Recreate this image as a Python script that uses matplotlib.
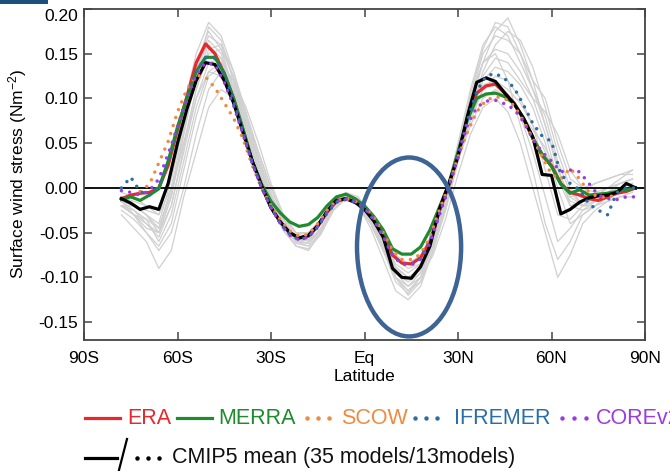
import numpy as np
import matplotlib
matplotlib.use('Agg')
import matplotlib.pyplot as plt
from matplotlib.patches import Ellipse, Rectangle
from matplotlib.lines import Line2D
from matplotlib.transforms import ScaledTranslation

plt.rcParams['font.family'] = ['Liberation Sans', 'DejaVu Sans']
plt.rcParams['axes.unicode_minus'] = False
plt.rcParams['mathtext.fontset'] = 'custom'
plt.rcParams['mathtext.rm'] = 'Liberation Sans'
plt.rcParams['mathtext.it'] = 'Liberation Sans:italic'

nan = np.nan

# zonal mean surface wind stress (N m-2), 3 deg latitude steps
lat = np.arange(-78, 90, 3)
era = [-0.012, -0.008, -0.006, -0.005, 0.000, 0.025, 0.065, 0.102, 0.140, 0.161,
       0.150, 0.128, 0.100, 0.065, 0.030, 0.002, -0.022, -0.038, -0.050, -0.056,
       -0.054, -0.043, -0.027, -0.015, -0.012, -0.016, -0.022, -0.035, -0.052, -0.075,
       -0.084, -0.085, -0.078, -0.060, -0.026, 0.002, 0.038, 0.078, 0.106, 0.114,
       0.116, 0.106, 0.095, 0.078, 0.056, 0.036, 0.025, 0.005, -0.005, -0.008,
       -0.012, -0.014, -0.010, -0.006, -0.004, 0.000]
merra = [-0.013, -0.010, -0.014, -0.008, -0.001, 0.030, 0.068, 0.100, 0.130, 0.146,
         0.146, 0.128, 0.100, 0.066, 0.030, 0.004, -0.015, -0.028, -0.038, -0.043,
         -0.041, -0.033, -0.020, -0.010, -0.007, -0.012, -0.020, -0.032, -0.047, -0.068,
         -0.074, -0.074, -0.066, -0.047, -0.022, 0.004, 0.040, 0.076, 0.100, 0.105,
         0.106, 0.102, 0.094, 0.078, 0.055, 0.038, 0.024, 0.004, -0.006, -0.002,
         -0.008, -0.007, -0.006, -0.004, -0.002, 0.000]
cmip_mean = [-0.012, -0.017, -0.024, -0.021, -0.024, 0.005, 0.050, 0.088, 0.120, 0.140,
             0.138, 0.120, 0.095, 0.062, 0.030, 0.002, -0.022, -0.038, -0.050, -0.056,
             -0.053, -0.042, -0.026, -0.014, -0.012, -0.016, -0.024, -0.037, -0.055, -0.090,
             -0.100, -0.101, -0.088, -0.065, -0.024, 0.004, 0.035, 0.080, 0.118, 0.123,
             0.119, 0.106, 0.094, 0.078, 0.057, 0.015, 0.014, -0.029, -0.024, -0.016,
             -0.011, -0.009, -0.008, -0.005, 0.005, 0.000]
scow = [nan, nan, -0.004, 0.004, 0.028, 0.052, 0.085, 0.110, 0.126, 0.124,
        0.112, 0.095, 0.078, 0.055, 0.025, 0.000, -0.020, -0.036, -0.048, -0.054,
        -0.052, -0.040, -0.025, -0.014, -0.012, -0.015, -0.021, -0.033, -0.050, -0.070,
        -0.080, -0.080, -0.074, -0.055, -0.025, 0.002, 0.035, 0.062, 0.085, 0.098,
        0.102, 0.100, 0.092, 0.075, 0.055, 0.035, 0.015, 0.010, 0.022, 0.010,
        -0.005, -0.010, -0.010, -0.008, nan, nan]
ifremer = [0.000, 0.012, -0.004, -0.008, 0.002, 0.030, 0.068, 0.100, 0.130, 0.146,
           0.145, 0.128, 0.098, 0.063, 0.028, 0.000, -0.022, -0.040, -0.052, -0.058,
           -0.055, -0.044, -0.028, -0.016, -0.013, -0.016, -0.022, -0.036, -0.054, -0.075,
           -0.085, -0.086, -0.078, -0.060, -0.030, 0.000, 0.036, 0.075, 0.108, 0.125,
           0.128, 0.122, 0.112, 0.093, 0.072, 0.058, 0.052, 0.015, 0.005, -0.002,
           -0.018, -0.025, -0.030, -0.005, 0.000, 0.000]
corev2 = [-0.003, -0.005, -0.008, -0.003, 0.010, 0.038, 0.068, 0.100, 0.126, 0.140,
          0.138, 0.118, 0.092, 0.060, 0.027, 0.000, -0.022, -0.040, -0.053, -0.058,
          -0.055, -0.043, -0.027, -0.015, -0.012, -0.015, -0.022, -0.035, -0.054, -0.076,
          -0.085, -0.086, -0.080, -0.062, -0.030, 0.000, 0.034, 0.070, 0.090, 0.097,
          0.098, 0.094, 0.088, 0.074, 0.055, 0.040, 0.030, 0.018, 0.020, 0.018,
          0.005, -0.008, -0.012, -0.013, -0.010, -0.010]

# individual CMIP5 models, 4 deg latitude steps
lat_models = np.arange(-78, 90, 4)
cmip_models = [
    [-0.02, -0.03, -0.04, -0.05, -0.01, 0.06, 0.13, 0.18, 0.165, 0.12,
     0.07, 0.02, -0.02, -0.045, -0.06, -0.058, -0.04, -0.015, -0.008, -0.02,
     -0.04, -0.07, -0.10, -0.115, -0.10, -0.06, -0.01, 0.04, 0.09, 0.14,
     0.175, 0.19, 0.16, 0.12, 0.07, 0.02, -0.01, -0.02, -0.015, -0.01,
     0.0, 0.005],
    [-0.03, -0.045, -0.06, -0.09, -0.07, -0.01, 0.04, 0.09, 0.11, 0.10,
     0.07, 0.03, -0.01, -0.04, -0.06, -0.065, -0.05, -0.025, -0.01, -0.02,
     -0.045, -0.08, -0.115, -0.125, -0.11, -0.07, -0.02, 0.04, 0.10, 0.14,
     0.15, 0.12, 0.07, 0.02, -0.04, -0.08, -0.06, -0.03, -0.02, -0.01,
     -0.005, 0.0],
    [-0.01, -0.02, -0.03, -0.04, 0.01, 0.07, 0.13, 0.165, 0.15, 0.11,
     0.065, 0.02, -0.02, -0.045, -0.058, -0.055, -0.038, -0.015, -0.008, -0.015,
     -0.035, -0.06, -0.09, -0.10, -0.09, -0.055, -0.01, 0.045, 0.10, 0.14,
     0.155, 0.15, 0.13, 0.10, 0.06, 0.01, -0.02, -0.015, -0.01, -0.005,
     0.005, 0.01],
    [-0.02, -0.025, -0.035, -0.06, -0.03, 0.03, 0.09, 0.13, 0.14, 0.12,
     0.08, 0.04, 0.0, -0.035, -0.055, -0.06, -0.045, -0.02, -0.005, -0.01,
     -0.03, -0.06, -0.095, -0.11, -0.095, -0.065, -0.025, 0.03, 0.08, 0.12,
     0.135, 0.13, 0.115, 0.09, 0.05, 0.0, -0.04, -0.03, -0.02, -0.01,
     0.0, 0.0],
    [-0.01, -0.02, -0.025, -0.03, 0.02, 0.09, 0.15, 0.185, 0.17, 0.13,
     0.08, 0.03, -0.015, -0.045, -0.065, -0.07, -0.05, -0.02, -0.005, -0.015,
     -0.04, -0.07, -0.095, -0.105, -0.095, -0.06, -0.01, 0.05, 0.11, 0.16,
     0.18, 0.17, 0.14, 0.11, 0.08, 0.03, -0.005, -0.02, -0.01, 0.0,
     0.01, 0.02],
    [-0.015, -0.03, -0.05, -0.065, -0.04, 0.02, 0.08, 0.125, 0.135, 0.11,
     0.07, 0.03, -0.01, -0.035, -0.05, -0.05, -0.035, -0.015, -0.01, -0.02,
     -0.035, -0.055, -0.08, -0.09, -0.085, -0.06, -0.02, 0.03, 0.075, 0.11,
     0.12, 0.105, 0.08, 0.04, -0.01, -0.06, -0.045, -0.025, -0.02, -0.015,
     -0.01, -0.005],
    [-0.02, -0.02, -0.03, -0.045, -0.005, 0.05, 0.11, 0.15, 0.155, 0.125,
     0.08, 0.035, -0.005, -0.04, -0.062, -0.065, -0.05, -0.025, -0.012, -0.02,
     -0.04, -0.065, -0.10, -0.12, -0.105, -0.07, -0.02, 0.035, 0.085, 0.125,
     0.145, 0.14, 0.12, 0.10, 0.085, 0.06, 0.02, 0.0, -0.005, 0.0,
     0.005, 0.01],
    [-0.005, -0.01, -0.02, -0.03, 0.0, 0.05, 0.10, 0.13, 0.125, 0.10,
     0.06, 0.02, -0.015, -0.04, -0.052, -0.05, -0.038, -0.018, -0.008, -0.012,
     -0.028, -0.05, -0.075, -0.085, -0.075, -0.05, -0.01, 0.04, 0.09, 0.115,
     0.12, 0.11, 0.095, 0.07, 0.04, 0.01, -0.01, -0.005, 0.005, 0.01,
     0.015, 0.015],
    [-0.025, -0.035, -0.05, -0.07, -0.05, 0.0, 0.06, 0.11, 0.13, 0.12,
     0.09, 0.05, 0.005, -0.03, -0.05, -0.058, -0.047, -0.025, -0.012, -0.018,
     -0.035, -0.065, -0.10, -0.11, -0.10, -0.075, -0.035, 0.015, 0.06, 0.09,
     0.10, 0.085, 0.05, 0.0, -0.05, -0.10, -0.075, -0.04, -0.025, -0.015,
     -0.01, -0.01],
    [-0.01, -0.015, -0.02, -0.025, 0.015, 0.075, 0.135, 0.17, 0.16, 0.12,
     0.075, 0.03, -0.01, -0.04, -0.055, -0.055, -0.04, -0.018, -0.008, -0.015,
     -0.03, -0.055, -0.085, -0.095, -0.085, -0.055, -0.015, 0.04, 0.10, 0.15,
     0.17, 0.165, 0.15, 0.12, 0.10, 0.05, 0.01, 0.0, 0.005, 0.01,
     0.015, 0.02],
    [-0.015, -0.025, -0.04, -0.055, -0.02, 0.04, 0.10, 0.14, 0.145, 0.115,
     0.072, 0.03, -0.008, -0.038, -0.058, -0.062, -0.048, -0.022, -0.01, -0.016,
     -0.038, -0.07, -0.105, -0.118, -0.10, -0.065, -0.02, 0.035, 0.08, 0.11,
     0.125, 0.12, 0.10, 0.07, 0.02, -0.03, -0.035, -0.02, -0.01, -0.005,
     0.0, 0.005],
    [-0.02, -0.03, -0.045, -0.05, -0.01, 0.06, 0.125, 0.16, 0.145, 0.105,
     0.06, 0.02, -0.02, -0.048, -0.065, -0.068, -0.052, -0.025, -0.01, -0.018,
     -0.04, -0.068, -0.10, -0.115, -0.105, -0.07, -0.025, 0.03, 0.085, 0.13,
     0.16, 0.175, 0.165, 0.135, 0.09, 0.04, 0.0, -0.02, -0.02, -0.01,
     -0.005, 0.0],
    [-0.015, -0.02, -0.03, -0.05, -0.02, 0.045, 0.11, 0.155, 0.16, 0.13,
     0.085, 0.04, 0.0, -0.032, -0.05, -0.052, -0.04, -0.02, -0.012, -0.02,
     -0.035, -0.06, -0.09, -0.1, -0.092, -0.062, -0.022, 0.03, 0.07, 0.1,
     0.11, 0.1, 0.085, 0.065, 0.045, 0.015, -0.015, -0.02, -0.01, 0.0,
     0.005, 0.01],
    [-0.02, -0.03, -0.035, -0.045, 0.0, 0.065, 0.14, 0.175, 0.155, 0.11,
     0.065, 0.025, -0.015, -0.042, -0.06, -0.062, -0.045, -0.02, -0.008, -0.014,
     -0.03, -0.058, -0.088, -0.1, -0.09, -0.058, -0.015, 0.045, 0.105, 0.155,
     0.185, 0.18, 0.15, 0.11, 0.07, 0.025, -0.02, -0.025, -0.015, -0.005,
     0.005, 0.01],
]

xticks = [-90, -60, -30, 0, 30, 60, 90]
xticklabels = ['90S', '60S', '30S', 'Eq', '30N', '60N', '90N']
yticks = [-0.15, -0.10, -0.05, 0.00, 0.05, 0.10, 0.15, 0.20]
yticklabels = ['-0.15', '-0.10', '-0.05', '0.00', '0.05', '0.10', '0.15', '0.20']

c_era = '#e8282c'
c_merra = '#1f8a2e'
c_scow = '#ef8a3e'
c_ifremer = '#2b6ea6'
c_core = '#9a3ce0'

W, H = 670, 471
fig = plt.figure(figsize=(W / 100, H / 100), dpi=100)
ax = fig.add_axes([84 / W, 1 - 340 / H, 561 / W, 331 / H])

for m in cmip_models:
    ax.plot(lat_models, m, color='#d0d0d0', lw=0.9, zorder=1)

ax.axhline(0, color='#111111', lw=1.4, zorder=2)

ax.plot(lat, era, color=c_era, lw=2.3, zorder=3)
ax.plot(lat, merra, color=c_merra, lw=2.3, zorder=4)
ax.plot(lat, cmip_mean, color='black', lw=2.3, zorder=5)

dots = dict(lw=2.5, linestyle=(0, (0.01, 2.4)), dash_capstyle='round', zorder=6)
ax.plot(lat, scow, color=c_scow, **dots)
ax.plot(lat, ifremer, color=c_ifremer, **dots)
ax.plot(lat, corev2, color=c_core, **dots)

ax.add_patch(Ellipse((14.3, -0.066), 33.4, 0.2, fill=False,
                     edgecolor='#3d6494', lw=3.2, zorder=7))

ax.set_xlim(-90, 90)
ax.set_ylim(-0.17, 0.20)
ax.set_xticks(xticks)
ax.set_xticklabels(xticklabels)
ax.set_yticks(yticks)
ax.set_yticklabels(yticklabels)
ax.tick_params(direction='in', length=6, width=1.1, color='#444444',
               labelsize=12.5, top=True, right=True)
ax.tick_params(axis='x', pad=8)
ax.tick_params(axis='y', pad=4)
for s in ax.spines.values():
    s.set_color('#444444')
    s.set_linewidth(1.3)

# top label sits a bit lower, under the frame
lab = ax.get_yticklabels()[-1]
lab.set_transform(lab.get_transform() + ScaledTranslation(0, -0.06, fig.dpi_scale_trans))

ax.set_xlabel('Latitude', fontsize=12.5, labelpad=2)
fig.text(18 / W, 1 - 174 / H, 'Surface wind stress (Nm$^{-2}$)', rotation=90,
         fontsize=12.5, ha='center', va='center')

# slide decoration in the corner
fig.add_artist(Rectangle((0, 1 - 4 / H), 48 / W, 4 / H, transform=fig.transFigure,
                         color='#1d4f7c', lw=0))


# legend below the plot, drawn by hand
def fx(x):
    return x / W


def fy(y):
    return 1 - y / H


def leg_line(x0, x1, y, color):
    fig.add_artist(Line2D([fx(x0), fx(x1)], [fy(y), fy(y)], color=color, lw=2.3,
                          transform=fig.transFigure))


def leg_dots(xs, y, color):
    fig.add_artist(Line2D([fx(x) for x in xs], [fy(y)] * len(xs), color=color,
                          marker='o', ms=2.2, linestyle='none', transform=fig.transFigure))


fs = 15.5
leg_line(85, 120, 418, c_era)
fig.text(fx(127), fy(418), 'ERA', color=c_era, fontsize=fs, va='center')
leg_line(177, 212, 418, c_merra)
fig.text(fx(218), fy(418), 'MERRA', color=c_merra, fontsize=fs, va='center')
leg_dots([307, 318, 329], 418, c_scow)
fig.text(fx(341), fy(418), 'SCOW', color=c_scow, fontsize=fs, va='center')
leg_dots([415, 426, 437], 418, c_ifremer)
fig.text(fx(454), fy(418), 'IFREMER', color=c_ifremer, fontsize=fs, va='center')
leg_dots([562, 574, 586], 418, c_core)
# the reference runs this label off the right edge of the figure
fig.text(fx(596), fy(418), 'COREv2', color=c_core, fontsize=fs, va='center')

leg_line(85, 117, 458, 'black')
fig.add_artist(Line2D([fx(119), fx(127)], [fy(470), fy(439)], color='black', lw=1.6,
                      transform=fig.transFigure))
leg_dots([137, 148, 159], 458, 'black')
fig.text(fx(172), fy(458), 'CMIP5 mean (35 models/13models)', color='#111111',
         fontsize=fs, va='center')

fig.savefig('out.png', dpi=100)
